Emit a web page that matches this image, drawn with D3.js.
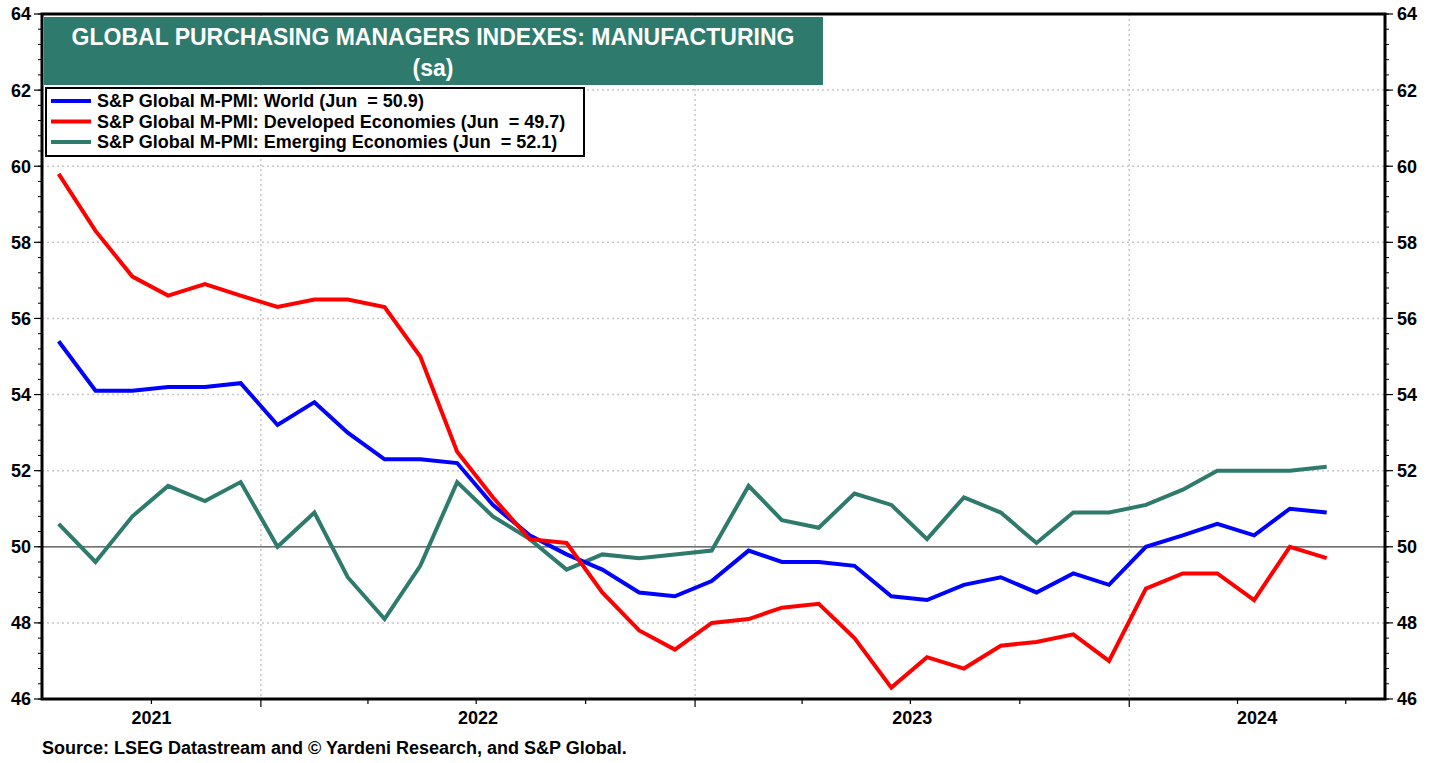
<!DOCTYPE html>
<html>
<head>
<meta charset="utf-8">
<script src="https://cdn.jsdelivr.net/npm/d3@7"></script>
<style>
  html, body { margin: 0; padding: 0; background: #ffffff; }
  svg { display: block; }
  text { font-family: "Liberation Sans", Arial, sans-serif; font-weight: bold; }
</style>
</head>
<body>
<svg id="chart" width="1439" height="763"></svg>
<script>
// ---- Data ----
const months = [
  "2021-07","2021-08","2021-09","2021-10","2021-11","2021-12",
  "2022-01","2022-02","2022-03","2022-04","2022-05","2022-06",
  "2022-07","2022-08","2022-09","2022-10","2022-11","2022-12",
  "2023-01","2023-02","2023-03","2023-04","2023-05","2023-06",
  "2023-07","2023-08","2023-09","2023-10","2023-11","2023-12",
  "2024-01","2024-02","2024-03","2024-04","2024-05","2024-06"
];
const world = [
  55.4, 54.1, 54.1, 54.2, 54.2, 54.3,
  53.2, 53.8, 53.0, 52.3, 52.3, 52.2,
  51.1, 50.3, 49.8, 49.4, 48.8, 48.7,
  49.1, 49.9, 49.6, 49.6, 49.5, 48.7,
  48.6, 49.0, 49.2, 48.8, 49.3, 49.0,
  50.0, 50.3, 50.6, 50.3, 51.0, 50.9
];
const developed = [
  59.8, 58.3, 57.1, 56.6, 56.9, 56.6,
  56.3, 56.5, 56.5, 56.3, 55.0, 52.5,
  51.3, 50.2, 50.1, 48.8, 47.8, 47.3,
  48.0, 48.1, 48.4, 48.5, 47.6, 46.3,
  47.1, 46.8, 47.4, 47.5, 47.7, 47.0,
  48.9, 49.3, 49.3, 48.6, 50.0, 49.7
];
const emerging = [
  50.6, 49.6, 50.8, 51.6, 51.2, 51.7,
  50.0, 50.9, 49.2, 48.1, 49.5, 51.7,
  50.8, 50.2, 49.4, 49.8, 49.7, 49.8,
  49.9, 51.6, 50.7, 50.5, 51.4, 51.1,
  50.2, 51.3, 50.9, 50.1, 50.9, 50.9,
  51.1, 51.5, 52.0, 52.0, 52.0, 52.1
];
const seriesNames = [
  "S&P Global M-PMI: World (Jun  = 50.9)",
  "S&P Global M-PMI: Developed Economies (Jun  = 49.7)",
  "S&P Global M-PMI: Emerging Economies (Jun  = 52.1)"
];
const seriesColors = ["#0000ff", "#ff0000", "#2e7b6d"];
const yTicks = [46, 48, 50, 52, 54, 56, 58, 60, 62, 64];
const yearLabels = ["2021", "2022", "2023", "2024"];
const titleLines = ["GLOBAL PURCHASING MANAGERS INDEXES: MANUFACTURING", "(sa)"];
const sourceText = "Source: LSEG Datastream and \u00A9 Yardeni Research, and S&P Global.";

// ---- Layout ----
const svg = d3.select("#chart");
const L = 42, R = 1385, T = 14, B = 699;
const parse = d3.timeParse("%Y-%m-%d");
const dates = months.map(m => parse(m + "-15"));

const x = d3.scaleTime()
  .domain([parse("2021-07-01"), parse("2024-08-03")])
  .range([L, R]);
const y = d3.scaleLinear().domain([46, 64]).range([B, T]);

// Gridlines horizontal
const g = svg.append("g");
g.selectAll("line.hgrid")
  .data(yTicks.filter(v => v !== 46 && v !== 64 && v !== 50))
  .join("line")
  .attr("x1", L).attr("x2", R)
  .attr("y1", d => y(d)).attr("y2", d => y(d))
  .attr("stroke", "#c8c8c8").attr("stroke-width", 1.5)
  .attr("stroke-dasharray", "2,3");

// Vertical gridlines at year boundaries
const yearBounds = d3.timeYear.range(x.domain()[0], x.domain()[1]).filter(d => +d > +x.domain()[0]);
g.selectAll("line.vgrid")
  .data(yearBounds)
  .join("line")
  .attr("x1", d => x(d)).attr("x2", d => x(d))
  .attr("y1", T).attr("y2", B)
  .attr("stroke", "#c8c8c8").attr("stroke-width", 1.5)
  .attr("stroke-dasharray", "2,3");

// 50 line
g.append("line")
  .attr("x1", L).attr("x2", R)
  .attr("y1", y(50)).attr("y2", y(50))
  .attr("stroke", "#444").attr("stroke-width", 1.2);

// Series lines
const line = d3.line().x((d, i) => x(dates[i])).y(d => y(d));
const allSeries = [emerging, world, developed];
const allColors = [seriesColors[2], seriesColors[0], seriesColors[1]];
allSeries.forEach((s, k) => {
  svg.append("path")
    .datum(s)
    .attr("d", line)
    .attr("fill", "none")
    .attr("stroke", allColors[k])
    .attr("stroke-width", 4)
    .attr("stroke-linejoin", "miter");
});

// Axes: minor ticks every 0.4
const minorTicks = d3.range(0, 46).map(i => 46 + i * 0.4).filter(v => v <= 64.001);
const axisG = svg.append("g");
axisG.selectAll("line.lminor").data(minorTicks).join("line")
  .attr("x1", L - 4).attr("x2", L)
  .attr("y1", d => y(d)).attr("y2", d => y(d))
  .attr("stroke", "#000").attr("stroke-width", 1);
axisG.selectAll("line.rminor").data(minorTicks).join("line")
  .attr("x1", R).attr("x2", R + 4)
  .attr("y1", d => y(d)).attr("y2", d => y(d))
  .attr("stroke", "#000").attr("stroke-width", 1);
axisG.selectAll("line.lmajor").data(yTicks).join("line")
  .attr("x1", L - 8).attr("x2", L)
  .attr("y1", d => y(d)).attr("y2", d => y(d))
  .attr("stroke", "#000").attr("stroke-width", 1.2);
axisG.selectAll("line.rmajor").data(yTicks).join("line")
  .attr("x1", R).attr("x2", R + 8)
  .attr("y1", d => y(d)).attr("y2", d => y(d))
  .attr("stroke", "#000").attr("stroke-width", 1.2);

axisG.selectAll("text.lt").data(yTicks).join("text")
  .attr("x", L - 11).attr("y", d => y(d)).attr("dy", "0.36em")
  .attr("text-anchor", "end").attr("font-size", 18).attr("fill", "#000")
  .text(d => d);
axisG.selectAll("text.rt").data(yTicks).join("text")
  .attr("x", R + 12).attr("y", d => y(d)).attr("dy", "0.36em")
  .attr("text-anchor", "start").attr("font-size", 18).attr("fill", "#000")
  .text(d => d);

// Bottom ticks: quarters
const quarters = d3.timeMonth.every(3).range(x.domain()[0], x.domain()[1]).filter(d => +d > +x.domain()[0]);
axisG.selectAll("line.bt").data(quarters).join("line")
  .attr("x1", d => x(d)).attr("x2", d => x(d))
  .attr("y1", B).attr("y2", d => d.getMonth() === 0 ? B + 8 : B + 5)
  .attr("stroke", "#000").attr("stroke-width", 1.2);

// Year labels centered in visible span
const years = yearLabels.map(s => +s);
axisG.selectAll("text.yr").data(years).join("text")
  .attr("x", yy => {
    const a = Math.max(+x.domain()[0], +new Date(yy, 0, 1));
    const b = Math.min(+x.domain()[1], +new Date(yy + 1, 0, 1));
    return (x(new Date(a)) + x(new Date(b))) / 2;
  })
  .attr("y", 718).attr("dy", "0.36em")
  .attr("text-anchor", "middle").attr("font-size", 18).attr("fill", "#000")
  .text(d => d);

// Frame
svg.append("path")
  .attr("d", `M${L},${T} L${R},${T} L${R},${B} L${L},${B} Z`)
  .attr("fill", "none").attr("stroke", "#000").attr("stroke-width", 3);

// Title box
svg.append("rect")
  .attr("x", 44).attr("y", 17).attr("width", 779).attr("height", 68)
  .attr("fill", "#2e7b6d");
svg.selectAll("text.title").data(titleLines).join("text")
  .attr("x", 433).attr("y", (d, i) => i === 0 ? 37 : 68).attr("dy", "0.36em")
  .attr("text-anchor", "middle").attr("font-size", 23).attr("fill", "#ffffff")
  .text(d => d);

// Legend
const lg = svg.append("g");
lg.append("rect")
  .attr("x", 46).attr("y", 88).attr("width", 538).attr("height", 68)
  .attr("fill", "#fff").attr("stroke", "#000").attr("stroke-width", 2);
seriesNames.forEach((name, i) => {
  const yy = 101 + i * 20.5;
  lg.append("line")
    .attr("x1", 51).attr("x2", 91).attr("y1", yy).attr("y2", yy)
    .attr("stroke", seriesColors[i]).attr("stroke-width", 4);
  lg.append("text")
    .attr("x", 97).attr("y", yy).attr("dy", "0.36em")
    .attr("font-size", 18).attr("fill", "#000")
    .attr("xml:space", "preserve").style("white-space", "pre")
    .text(name);
});

// Source
svg.append("text")
  .attr("x", 42).attr("y", 748).attr("dy", "0.36em")
  .attr("font-size", 18).attr("fill", "#000")
  .text(sourceText);
</script>
</body>
</html>
